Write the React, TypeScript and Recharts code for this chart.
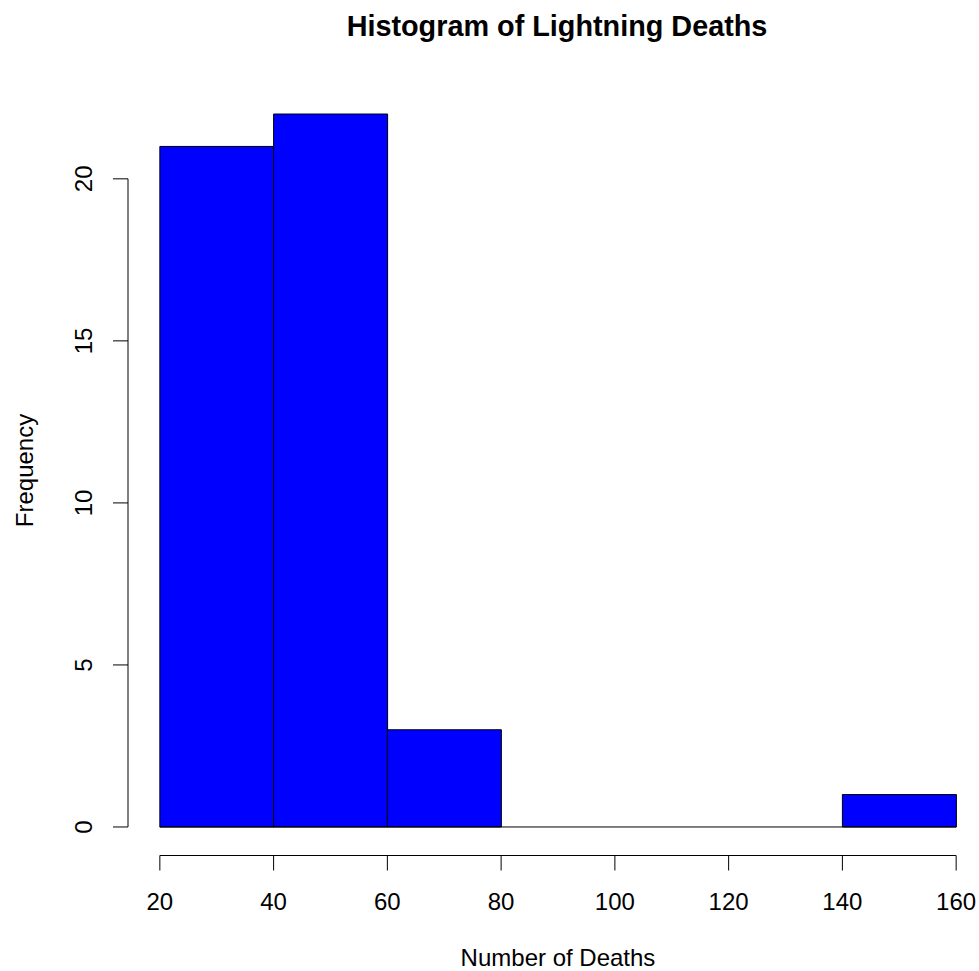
import { BarChart, Bar, XAxis, YAxis, ReferenceLine } from 'recharts'

// histogram bins and counts
const binEdges = [20, 40, 60, 80, 100, 120, 140, 160]
const counts = [21, 22, 3, 0, 0, 0, 1]
const xTicks = [20, 40, 60, 80, 100, 120, 140, 160]
const yTicks = [0, 5, 10, 15, 20]

const FONT = '"Liberation Sans", Arial, Helvetica, sans-serif'

const data = counts.map((count, i) => ({
  mid: (binEdges[i] + binEdges[i + 1]) / 2,
  count,
}))

// R extends the axis range by 4% on each side
const xLo = binEdges[0]
const xHi = binEdges[binEdges.length - 1]
const xPad = (xHi - xLo) * 0.04
const xMin = xLo - xPad
const xMax = xHi + xPad
const yTop = Math.max(...counts)
const yMin = -yTop * 0.04
const yMax = yTop * 1.04

const YTick = ({ x, y, payload }: any) => (
  <text
    x={x}
    y={y}
    transform={`rotate(-90, ${x}, ${y})`}
    textAnchor="middle"
    fill="#000"
    fontSize={24}
    fontFamily={FONT}
  >
    {payload.value}
  </text>
)

const YTitle = ({ viewBox }: any) => {
  const cx = 33
  const cy = viewBox.y + viewBox.height / 2
  return (
    <text
      x={cx}
      y={cy}
      transform={`rotate(-90, ${cx}, ${cy})`}
      textAnchor="middle"
      fill="#000"
      fontSize={24}
      fontFamily={FONT}
    >
      Frequency
    </text>
  )
}

export default function App() {
  return (
    <div style={{ position: 'absolute', left: 0, top: 0, width: 979, height: 971, overflow: 'hidden', background: '#fff' }}>
      <svg width={979} height={60} style={{ position: 'absolute', left: 0, top: 0 }}>
        <text x={557} y={36} textAnchor="middle" fontSize={28.8} fontWeight="bold" fontFamily={FONT} fill="#000">
          Histogram of Lightning Deaths
        </text>
      </svg>
      <BarChart
        width={988}
        height={971}
        data={data}
        margin={{ top: 85.5, right: 0, bottom: 0, left: 0 }}
        barCategoryGap={0}
        barGap={0}
      >
        <XAxis
          dataKey="mid"
          type="number"
          domain={[xMin, xMax]}
          ticks={xTicks}
          interval={0}
          axisLine={false}
          tickLine={{ stroke: '#000' }}
          tickSize={15}
          tickMargin={22}
          tick={{ fill: '#000', fontSize: 24, fontFamily: FONT }}
          height={115.5}
          label={{ value: 'Number of Deaths', position: 'insideBottom', offset: 5, fill: '#000', fontSize: 24, fontFamily: FONT }}
        />
        <YAxis
          type="number"
          domain={[yMin, yMax]}
          ticks={yTicks}
          interval={0}
          axisLine={false}
          tickLine={{ stroke: '#000' }}
          tickSize={15}
          tickMargin={21}
          tick={<YTick />}
          width={128}
          label={{ content: <YTitle /> }}
        />
        <ReferenceLine
          segment={[{ x: xLo, y: 0 }, { x: xHi, y: 0 }]}
          stroke="#000"
          ifOverflow="visible"
        />
        <Bar dataKey="count" fill="#0000FF" stroke="#000" strokeWidth={1} isAnimationActive={false} />
        <ReferenceLine
          segment={[{ x: xTicks[0], y: yMin }, { x: xTicks[xTicks.length - 1], y: yMin }]}
          stroke="#000"
          ifOverflow="visible"
        />
        <ReferenceLine
          segment={[{ x: xMin, y: yTicks[0] }, { x: xMin, y: yTicks[yTicks.length - 1] }]}
          stroke="#000"
          ifOverflow="visible"
        />
      </BarChart>
    </div>
  )
}
